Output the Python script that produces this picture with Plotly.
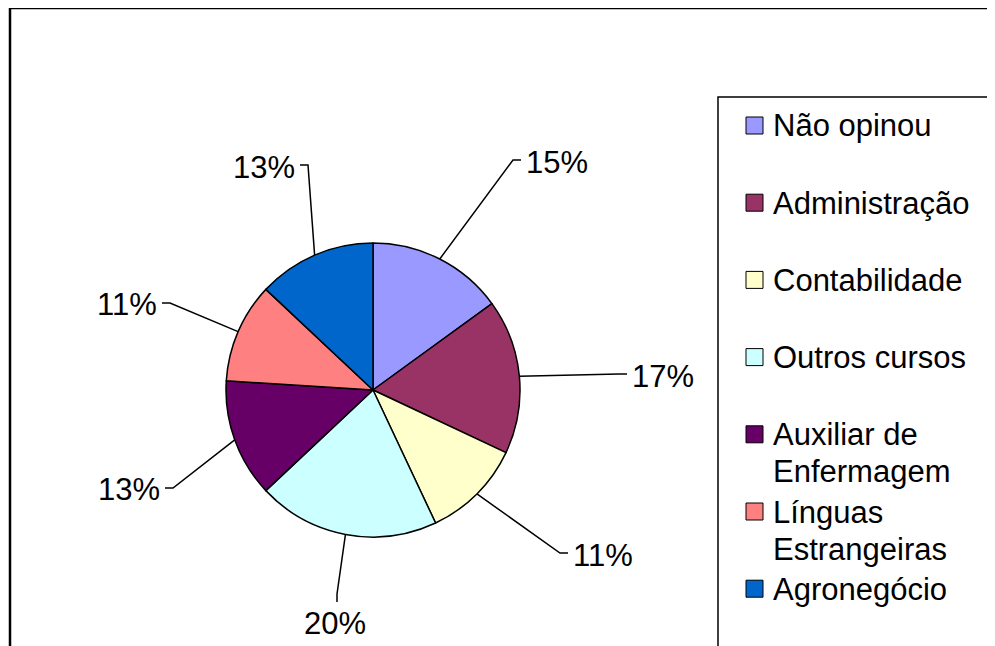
import math
import textwrap
import plotly.graph_objects as go

# dados do gráfico
cursos = ["Não opinou", "Administração", "Contabilidade", "Outros cursos",
          "Auxiliar de Enfermagem", "Línguas Estrangeiras", "Agronegócio"]
percentuais = [15, 17, 11, 20, 13, 11, 13]
cores = ["#9999FF", "#993366", "#FFFFCC", "#CCFFFF", "#660066", "#FF8080", "#0066CC"]

OFF = 8  # margem padrão do <body> na página gerada
W, H = 995, 646 - OFF
FONTE = "Liberation Sans, Arial, sans-serif"
FS = 31

# geometria da pizza (pixels da tela)
CX, CY, R = 373, 390, 147

# posicao do cotovelo da linha de chamada e lado do rótulo
rotulo_xy = [(513, 160), (619, 374), (560, 553), (337, 594), (173, 488), (170, 303), (308, 165)]
rotulo_lado = ["r", "r", "r", "b", "l", "l", "l"]


def px(x):
    return (x - OFF) / W


def py(y):
    return 1 - (y - OFF) / H


fig = go.Figure(go.Pie(
    labels=cursos,
    values=percentuais,
    sort=False,
    direction="clockwise",
    rotation=0,
    marker=dict(colors=cores, line=dict(color="black", width=1.5)),
    textinfo="none",
    hovertemplate="%{label}: %{percent}<extra></extra>",
    showlegend=False,
    domain=dict(x=[px(CX - R), px(CX + R)], y=[py(CY + R), py(CY - R)]),
))

shapes = []
annotations = []

# moldura externa e caixa da legenda (cortadas na borda, como no original)
shapes.append(dict(type="rect", xref="paper", yref="paper",
                   x0=px(10), y0=py(8), x1=px(1020), y1=py(670),
                   line=dict(color="black", width=2.5)))
shapes.append(dict(type="rect", xref="paper", yref="paper",
                   x0=px(718), y0=py(97), x1=px(1020), y1=py(670),
                   line=dict(color="black", width=1.5)))

# rótulos de porcentagem com linhas de chamada
total = sum(percentuais)
acum = 0
for i, v in enumerate(percentuais):
    ang = 2 * math.pi * (acum + v / 2) / total
    acum += v
    ex, ey = CX + R * math.sin(ang), CY - R * math.cos(ang)
    bx, by = rotulo_xy[i]
    lado = rotulo_lado[i]
    if lado == "r":
        tx, ty = bx + 8, by
        ax, ay, xa, ya = tx + 3, by + 2, "left", "middle"
    elif lado == "l":
        tx, ty = bx - 8, by
        ax, ay, xa, ya = tx - 3, by + 2, "right", "middle"
    else:
        tx, ty = bx, by + 8
        ax, ay, xa, ya = bx - 2, ty + 2, "center", "top"
    path = "M {},{} L {},{} L {},{}".format(px(ex), py(ey), px(bx), py(by), px(tx), py(ty))
    shapes.append(dict(type="path", xref="paper", yref="paper", path=path,
                       line=dict(color="black", width=1.5)))
    annotations.append(dict(x=px(ax), y=py(ay), xref="paper", yref="paper",
                            text="{}%".format(round(100 * v / total)), showarrow=False,
                            xanchor=xa, yanchor=ya,
                            font=dict(family=FONTE, size=FS, color="black")))

# legenda desenhada à mão
leg_y0, leg_dy, linha_dy = 125, 77.2, 37
for i, nome in enumerate(cursos):
    yc = leg_y0 + leg_dy * i
    shapes.append(dict(type="rect", xref="paper", yref="paper",
                       x0=px(746), y0=py(yc - 8), x1=px(763), y1=py(yc + 9),
                       fillcolor=cores[i], line=dict(color="black", width=1)))
    for j, linha in enumerate(textwrap.wrap(nome, 13)):
        annotations.append(dict(x=px(771), y=py(yc + 1 + j * linha_dy), xref="paper", yref="paper",
                                text=linha, showarrow=False,
                                xanchor="left", yanchor="middle",
                                font=dict(family=FONTE, size=FS, color="black")))

fig.update_layout(
    width=W, height=H,
    margin=dict(l=0, r=0, t=0, b=0),
    paper_bgcolor="white",
    plot_bgcolor="white",
    shapes=shapes,
    annotations=annotations,
)

fig.write_html("out.html")
